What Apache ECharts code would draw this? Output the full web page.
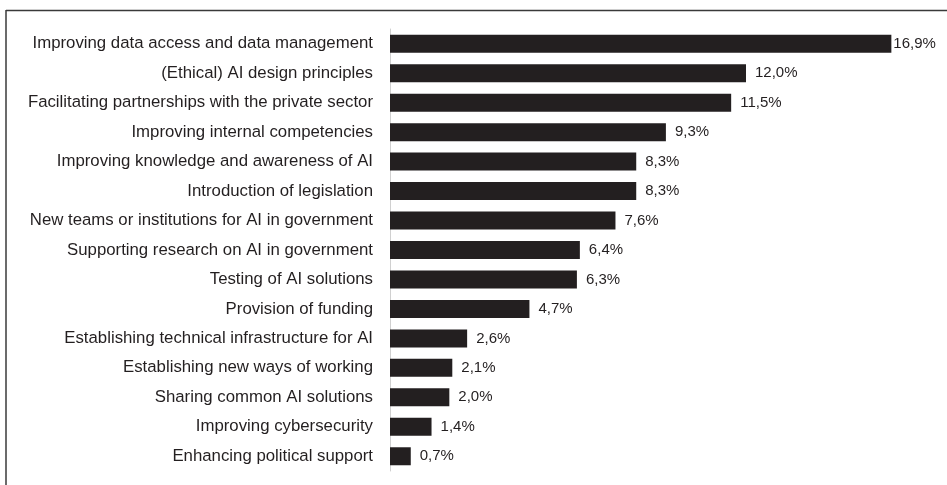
<!DOCTYPE html>
<html>
<head>
<meta charset="utf-8">
<style>
  html, body { margin: 0; padding: 0; background: #ffffff; }
  #chart { width: 947px; height: 485px; }
</style>
<script src="https://cdn.jsdelivr.net/npm/echarts@6/dist/echarts.min.js"></script>
</head>
<body>
<div id="chart"></div>
<script>
// Measures, listed top to bottom
const categories = [
  'Improving data access and data management',
  '(Ethical) AI design principles',
  'Facilitating partnerships with the private sector',
  'Improving internal competencies',
  'Improving knowledge and awareness of AI',
  'Introduction of legislation',
  'New teams or institutions for AI in government',
  'Supporting research on AI in government',
  'Testing of AI solutions',
  'Provision of funding',
  'Establishing technical infrastructure for AI',
  'Establishing new ways of working',
  'Sharing common AI solutions',
  'Improving cybersecurity',
  'Enhancing political support'
];
// Share of mentions, percent
const shares = [16.9, 12.0, 11.5, 9.3, 8.3, 8.3, 7.6, 6.4, 6.3, 4.7, 2.6, 2.1, 2.0, 1.4, 0.7];

const fmt = v => v.toFixed(1).replace('.', ',') + '%';

const chart = echarts.init(document.getElementById('chart'), null, { renderer: 'canvas' });

const barData = shares.map((v, i) => {
  const item = { value: v };
  // the longest bar carries its label tight against the end
  if (i === 0) item.label = { distance: 2 };
  return item;
});

chart.setOption({
  backgroundColor: '#ffffff',
  animation: false,
  textStyle: { fontFamily: 'Liberation Sans, Arial, Helvetica, sans-serif' },
  grid: { left: 390, top: 29, width: 534, height: 442, containLabel: false },
  xAxis: {
    type: 'value',
    min: 0,
    max: 18,
    show: false
  },
  yAxis: {
    type: 'category',
    data: categories,
    inverse: true,
    axisLine: { show: true, lineStyle: { color: '#d0d0d0', width: 1 } },
    axisTick: { show: false },
    axisLabel: {
      color: '#231f20',
      fontSize: 16.8,
      margin: 17,
      fontFamily: 'Liberation Sans, Arial, Helvetica, sans-serif'
    }
  },
  series: [{
    type: 'bar',
    data: barData,
    barWidth: 18,
    itemStyle: { color: '#231f20' },
    label: {
      show: true,
      position: 'right',
      distance: 9,
      color: '#231f20',
      fontSize: 15,
      fontFamily: 'Liberation Sans, Arial, Helvetica, sans-serif',
      formatter: p => fmt(p.value)
    }
  }],
  graphic: [
    // frame around the figure (open at right and bottom edges)
    { type: 'line', shape: { x1: 6, y1: 10.5, x2: 947, y2: 10.5 }, style: { stroke: '#3a3a3a', lineWidth: 1.5 } },
    { type: 'line', shape: { x1: 6, y1: 10, x2: 6, y2: 485 }, style: { stroke: '#3a3a3a', lineWidth: 1.5 } }
  ]
});
</script>
</body>
</html>
